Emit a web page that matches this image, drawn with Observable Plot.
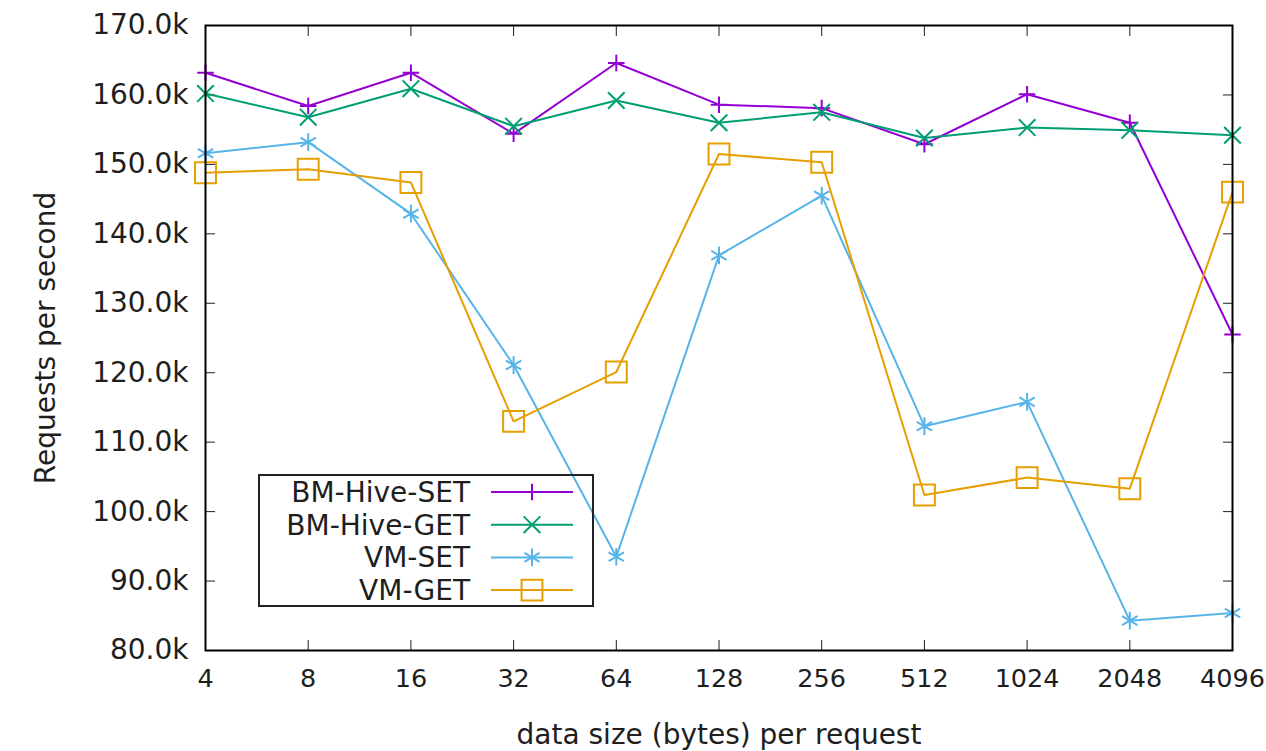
<!DOCTYPE html>
<html><head><meta charset="utf-8">
<script src="https://cdn.jsdelivr.net/npm/d3@7"></script>
<script src="https://cdn.jsdelivr.net/npm/@observablehq/plot@0.6"></script>
<style>
body{margin:0;background:#fff;font-family:"DejaVu Sans",sans-serif;}
#wrap{position:relative;width:1266px;height:751px;}
#legend{position:absolute;left:258px;top:474px;}
</style>
</head><body><div id="wrap"></div>
<script>
// data size per request (bytes)
const sizes = [4, 8, 16, 32, 64, 128, 256, 512, 1024, 2048, 4096];
// requests per second, in thousands
const bmHiveSet = [163.2, 158.4, 163.2, 154.4, 164.6, 158.6, 158.1, 152.9, 160.1, 156.0, 125.5];
const bmHiveGet = [160.2, 156.8, 160.9, 155.5, 159.2, 156.0, 157.5, 153.8, 155.3, 154.9, 154.2];
const vmSet     = [151.6, 153.2, 142.9, 121.1,  93.5, 136.9, 145.5, 112.3, 115.8,  84.3,  85.4];
const vmGet     = [148.8, 149.3, 147.4, 113.0, 120.1, 151.5, 150.3, 102.4, 104.9, 103.3, 146.0];

const seriesNames = ["BM-Hive-SET", "BM-Hive-GET", "VM-SET", "VM-GET"];
const seriesValues = [bmHiveSet, bmHiveGet, vmSet, vmGet];
const seriesColors = ["#9400d3", "#009e73", "#56b4e9", "#e69f00"];
const seriesSymbols = ["plus", "times", "asterisk", "square"];
const seriesR = [5.4, 7.6, 8.4, 11.8];
const yTicks = [80000, 90000, 100000, 110000, 120000, 130000, 140000, 150000, 160000, 170000];

const xLabel = "data size (bytes) per request";
const yLabel = "Requests per second";
const FS = 28;     // labels, legend, y ticks
const FSX = 25.5;  // x tick labels

const rows = [];
seriesValues.forEach((vals, i) => vals.forEach((v, j) => rows.push({series: seriesNames[i], size: sizes[j], value: v * 1000})));

const seriesMarks = seriesNames.flatMap((name, i) => {
  const d = rows.filter(r => r.series === name);
  return [
    Plot.line(d, {x: "size", y: "value", stroke: seriesColors[i], strokeWidth: 2}),
    Plot.dot(d, {x: "size", y: "value", symbol: seriesSymbols[i], r: seriesR[i], stroke: seriesColors[i], fill: "none", strokeWidth: 2})
  ];
});

const chart = Plot.plot({
  width: 1266, height: 751,
  marginLeft: 205, marginRight: 34, marginTop: 25, marginBottom: 101,
  style: {fontFamily: "DejaVu Sans", fontSize: FS + "px", color: "#1e1e1e", background: "#fff"},
  x: {type: "log", base: 2, domain: [4, 4096]},
  y: {domain: [80000, 170000]},
  marks: [
    Plot.axisX(sizes, {anchor: "bottom", tickSize: -10, tickPadding: 28, tickFormat: d => String(d), fontSize: FSX, label: null}),
    Plot.axisX({anchor: "bottom", ticks: [], label: xLabel, labelAnchor: "center", labelOffset: 93, labelArrow: "none", fontSize: FS}),
    Plot.axisX(sizes, {anchor: "top", tickSize: -10, tickFormat: () => "", label: null}),
    Plot.axisY(yTicks, {anchor: "left", tickSize: -10, tickPadding: 27, tickFormat: d => (d / 1000).toFixed(1) + "k",
      label: yLabel, labelAnchor: "center", labelOffset: 170, labelArrow: "none", fontSize: FS}),
    Plot.axisY(yTicks, {anchor: "right", tickSize: -10, tickFormat: () => "", label: null}),
    ...seriesMarks,
    Plot.frame({stroke: "#000", strokeWidth: 2})
  ]
});
const wrap = document.getElementById("wrap");
wrap.appendChild(chart);

// legend (inside plot area, gnuplot style key)
const lw = 336, lh = 133;
const leg = d3.select(wrap).append("svg").attr("id", "legend").attr("width", lw).attr("height", lh)
  .style("font-family", "DejaVu Sans").style("font-size", FS + "px");
leg.append("rect").attr("x", 1).attr("y", 1).attr("width", lw - 2).attr("height", lh - 2)
  .attr("fill", "none").attr("stroke", "#222").attr("stroke-width", 2);
const symMap = {plus: d3.symbolPlus, times: d3.symbolTimes, asterisk: d3.symbolAsterisk, square: d3.symbolSquare};
seriesNames.forEach((name, i) => {
  const cy = 18 + i * 32.7;
  leg.append("text").attr("x", 212).attr("y", cy).attr("text-anchor", "end").attr("dy", "0.36em")
    .attr("fill", "#1e1e1e").text(name);
  leg.append("line").attr("x1", 233).attr("x2", 315).attr("y1", cy).attr("y2", cy)
    .attr("stroke", seriesColors[i]).attr("stroke-width", 2);
  leg.append("path").attr("transform", `translate(274,${cy})`)
    .attr("d", d3.symbol(symMap[seriesSymbols[i]], Math.PI * seriesR[i] * seriesR[i])())
    .attr("fill", "none").attr("stroke", seriesColors[i]).attr("stroke-width", 2);
});
</script>
</body></html>
